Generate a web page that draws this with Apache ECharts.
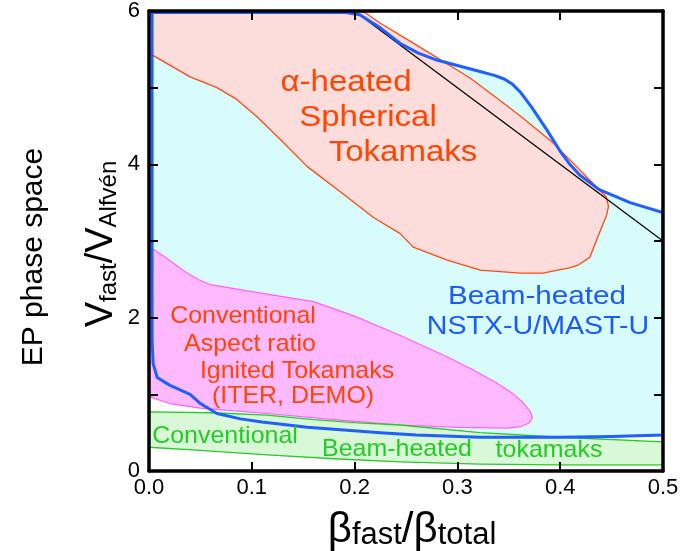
<!DOCTYPE html>
<html>
<head>
<meta charset="utf-8">
<script src="https://cdn.jsdelivr.net/npm/echarts@6/dist/echarts.min.js"></script>
<style>
html,body{margin:0;padding:0;background:#fff;}
#chart{width:686px;height:551px;}
</style>
</head>
<body>
<div id="chart"></div>
<script>
// ---- Data (x = beta_fast/beta_total, y = V_fast/V_Alfven) ----
const xTickLabels = ['0.0', '0.1', '0.2', '0.3', '0.4', '0.5'];
const yTickLabels = ['0', '', '2', '', '4', '', '6'];

// Beam-heated NSTX-U / MAST-U region (blue boundary)
const beamHeatedST = [
  [0.003, 5.98], [0.19, 5.985], [0.205, 5.95], [0.225, 5.78], [0.244, 5.58],
  [0.262, 5.45], [0.280, 5.36], [0.300, 5.29], [0.322, 5.21], [0.336, 5.16],
  [0.346, 5.11], [0.354, 5.04], [0.362, 4.93], [0.372, 4.75], [0.387, 4.45],
  [0.400, 4.17], [0.410, 3.99], [0.419, 3.86], [0.438, 3.67], [0.468, 3.50],
  [0.500, 3.37], [0.500, 0.47], [0.450, 0.45], [0.400, 0.44], [0.322, 0.44],
  [0.260, 0.47], [0.225, 0.50], [0.154, 0.57], [0.110, 0.64], [0.089, 0.68],
  [0.066, 0.75], [0.050, 0.88], [0.040, 1.00], [0.020, 1.12], [0.008, 1.22],
  [0.004, 1.40], [0.003, 1.70]
];

// alpha-heated spherical tokamaks (orange boundary)
const alphaHeatedST = [
  [0.0, 6.0], [0.200, 6.0], [0.210, 5.98], [0.225, 5.84], [0.250, 5.64],
  [0.273, 5.45], [0.295, 5.27], [0.312, 5.13], [0.340, 4.85], [0.364, 4.60],
  [0.393, 4.28], [0.419, 3.93], [0.445, 3.57], [0.447, 3.45], [0.445, 3.33],
  [0.438, 3.10], [0.429, 2.79], [0.418, 2.69], [0.409, 2.65], [0.383, 2.58],
  [0.361, 2.58], [0.322, 2.62], [0.290, 2.75], [0.257, 2.92], [0.244, 3.10],
  [0.218, 3.31], [0.193, 3.57], [0.154, 3.97], [0.128, 4.32], [0.105, 4.62],
  [0.085, 4.85], [0.066, 5.00], [0.040, 5.14], [0.0, 5.45]
];

// Conventional aspect ratio ignited tokamaks (magenta boundary)
const ignitedTokamaks = [
  [0.0, 2.93], [0.020, 2.75], [0.035, 2.60], [0.049, 2.49], [0.060, 2.43],
  [0.100, 2.34], [0.160, 2.21], [0.200, 2.02], [0.244, 1.77], [0.270, 1.61],
  [0.290, 1.49], [0.315, 1.32], [0.338, 1.15], [0.355, 1.00], [0.364, 0.89],
  [0.371, 0.77], [0.373, 0.70], [0.370, 0.63], [0.362, 0.58], [0.348, 0.56],
  [0.300, 0.57], [0.244, 0.60], [0.180, 0.67], [0.115, 0.75], [0.050, 0.82],
  [0.020, 0.88], [0.0, 0.97]
];

// Conventional beam-heated tokamaks (green boundary)
const beamHeatedTokamaks = [
  [0.0, 0.77], [0.060, 0.76], [0.115, 0.73], [0.160, 0.67], [0.200, 0.63],
  [0.244, 0.60], [0.322, 0.50], [0.400, 0.44], [0.500, 0.38],
  [0.500, 0.08], [0.400, 0.08], [0.322, 0.09], [0.244, 0.12], [0.180, 0.16],
  [0.115, 0.21], [0.050, 0.27], [0.0, 0.31]
];

// Straight black reference line
const referenceLine = [[0.21, 5.9], [0.5, 3.0]];

// ---- Chart ----
const FONT = 'Liberation Sans, Arial, Helvetica, sans-serif';
const chart = echarts.init(document.getElementById('chart'), null, {renderer: 'canvas'});

function regionSeries(points, fill, stroke, lw, z, closed) {
  return {
    type: 'custom',
    coordinateSystem: 'cartesian2d',
    data: [[0, 0]],
    clip: true,
    silent: true,
    z: z,
    renderItem: function (params, api) {
      const pts = points.map(p => api.coord(p));
      return {
        type: closed ? 'polygon' : 'polyline',
        shape: {points: pts},
        style: {fill: fill, stroke: stroke, lineWidth: lw, lineJoin: 'round'}
      };
    }
  };
}

const axisLineStyle = {color: '#000', width: 3.5};
const tickStyle = {color: '#000', width: 2};

function labelText(x, y, text, fs, color, sx) {
  return {
    type: 'text', x: x, y: y, scaleX: sx || 1, z: 100,
    style: {text: text, fontSize: fs, fontFamily: FONT, fill: color, align: 'center', verticalAlign: 'middle'}
  };
}

const option = {
  backgroundColor: '#fff',
  animation: false,
  grid: {left: 149, right: 23, top: 11, bottom: 80},
  xAxis: [
    {
      type: 'value', min: 0, max: 0.5, interval: 0.1, position: 'bottom', z: 10,
      axisLine: {show: true, onZero: false, lineStyle: axisLineStyle},
      axisTick: {show: true, inside: true, length: 9, lineStyle: tickStyle},
      axisLabel: {
        formatter: v => xTickLabels[Math.round(v * 10)], fontSize: 22,
        color: '#000', margin: 6, fontFamily: FONT
      },
      splitLine: {show: false}
    },
    {
      type: 'value', min: 0, max: 0.5, interval: 0.1, position: 'top', z: 10,
      axisLine: {show: true, onZero: false, lineStyle: axisLineStyle},
      axisTick: {show: true, inside: true, length: 9, lineStyle: tickStyle},
      axisLabel: {show: false},
      splitLine: {show: false}
    }
  ],
  yAxis: [
    {
      type: 'value', min: 0, max: 6, interval: 1, position: 'left', z: 10,
      axisLine: {show: true, onZero: false, lineStyle: axisLineStyle},
      axisTick: {show: true, inside: true, length: 9, lineStyle: tickStyle},
      axisLabel: {
        formatter: v => yTickLabels[Math.round(v)], fontSize: 22,
        color: '#000', margin: 9, fontFamily: FONT
      },
      splitLine: {show: false}
    },
    {
      type: 'value', min: 0, max: 6, interval: 1, position: 'right', z: 10,
      axisLine: {show: true, onZero: false, lineStyle: axisLineStyle},
      axisTick: {show: true, inside: true, length: 9, lineStyle: tickStyle},
      axisLabel: {show: false},
      splitLine: {show: false}
    }
  ],
  series: [
    regionSeries(beamHeatedST, '#d8fcfc', null, 0, 2, true),
    regionSeries(alphaHeatedST, '#fddcdc', '#ff4a12', 1.3, 3, true),
    regionSeries(ignitedTokamaks, '#ffbaff', '#ff60ff', 1.2, 4, true),
    regionSeries(beamHeatedTokamaks, '#d8f8d8', '#2cc82c', 1.3, 5, true),
    regionSeries(referenceLine, null, '#000', 1.3, 6, false),
    regionSeries(beamHeatedST, null, '#1f5fff', 3, 7, true)
  ],
  graphic: [
    labelText(346, 83, 'α-heated', 30, '#ff4500', 1.1),
    labelText(368, 118, 'Spherical', 30, '#ff4500', 1.1),
    labelText(403, 153, 'Tokamaks', 30, '#ff4500', 1.1),
    labelText(537, 297, 'Beam-heated', 26, '#1a5aff', 1.14),
    labelText(538, 327, 'NSTX-U/MAST-U', 26, '#1a5aff', 1.1),
    labelText(243, 316, 'Conventional', 24, '#ff4500', 1.04),
    labelText(250, 344, 'Aspect ratio', 24, '#ff4500', 1.04),
    labelText(297, 371, 'Ignited Tokamaks', 24, '#ff4500', 1.04),
    labelText(293, 396, '(ITER, DEMO)', 24, '#ff4500', 1.04),
    labelText(225, 436, 'Conventional', 24, '#22cc22', 1.04),
    labelText(397, 449, 'Beam-heated', 24, '#22cc22', 1.04),
    labelText(549, 450, 'tokamaks', 24, '#22cc22', 1.04),
    {
      type: 'text', x: 34, y: 257, rotation: Math.PI / 2, z: 100,
      style: {text: 'EP phase space', fontSize: 30, fontFamily: FONT, fill: '#000', align: 'center', verticalAlign: 'middle'}
    },
    {
      type: 'text', x: 101, y: 244, rotation: Math.PI / 2, z: 100,
      style: {
        text: '{b|V}{s|fast}{b|/V}{s|Alfvén}',
        fontFamily: FONT, fill: '#000', align: 'center', verticalAlign: 'middle',
        rich: {
          b: {fontSize: 38, fontFamily: FONT, fill: '#000', verticalAlign: 'bottom', lineHeight: 40},
          s: {fontSize: 24, fontFamily: FONT, fill: '#000', verticalAlign: 'bottom', lineHeight: 22}
        }
      }
    },
    {
      type: 'text', x: 412, y: 529, z: 100,
      style: {
        text: '{b|β}{s|fast}{b|/}{b|β}{s|total}',
        fontFamily: FONT, fill: '#000', align: 'center', verticalAlign: 'middle',
        rich: {
          b: {fontSize: 42, fontFamily: FONT, fill: '#000', verticalAlign: 'bottom', lineHeight: 44},
          s: {fontSize: 31, fontFamily: FONT, fill: '#000', verticalAlign: 'bottom', lineHeight: 36}
        }
      }
    }
  ]
};
chart.setOption(option);
</script>
</body>
</html>
